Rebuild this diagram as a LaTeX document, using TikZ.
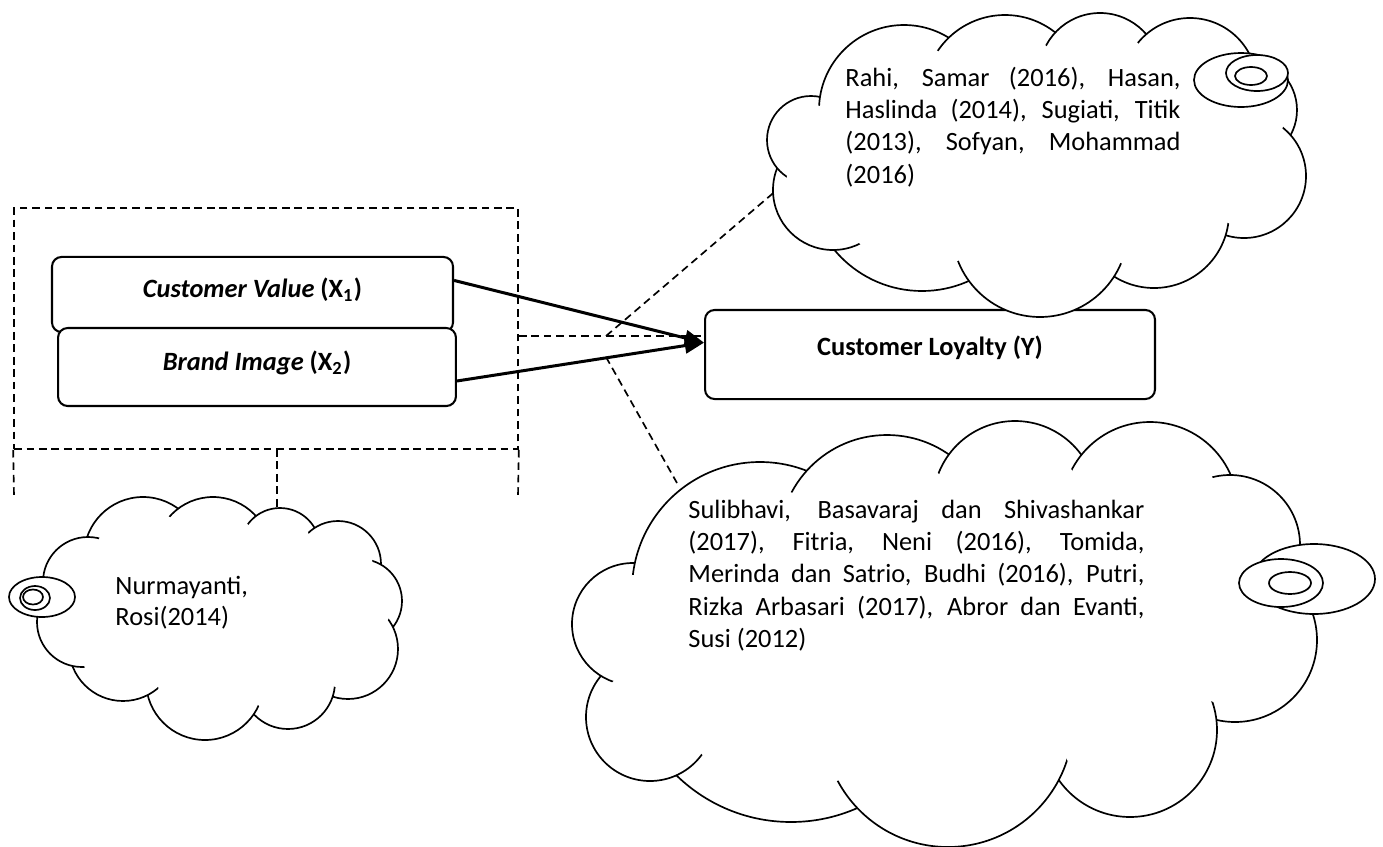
\documentclass[tikz,border=0pt]{standalone}
\usepackage{fontspec}
\setmainfont{Carlito}
\usetikzlibrary{arrows.meta}
\tolerance=10000
\hbadness=10000

% Wolke aus Kreisen: #1 erster Mittelpunkt, #2 Liste x/y/r
\newcommand{\cloudshape}[2]{%
  \foreach \bx/\by/\br in {#2}
  \filldraw[cloudline, fill=white] (\bx,\by) circle[radius=\br];
  \fill[white] #1 \foreach \bx/\by/\br in {#2} {-- (\bx,\by)} -- cycle;
  \foreach \bx/\by/\br in {#2}
  \fill[white] (\bx,\by) circle[radius=0.8*\br];
}

\begin{document}
\begin{tikzpicture}[x=0.4167pt, y=-0.4167pt,
  box/.style={draw, fill=white, line width=0.85pt, rounded corners=4pt, inner sep=0pt, font=\fontsize{11pt}{13.75pt}\selectfont},
  dashline/.style={line width=0.7pt, dash pattern=on 3.2pt off 2pt},
  arrowline/.style={line width=1.25pt, -{Triangle[length=8pt,width=6.5pt]}},
  cloudline/.style={line width=0.7pt},
  reftext/.style={anchor=base west, inner sep=0pt, font=\fontsize{11pt}{13.5pt}\selectfont}]

  \useasboundingbox (0,0) rectangle (1383,847);

  % Rahmen um X1 und X2
  \node (frame) [draw, dashline, inner sep=0pt, minimum width=210pt, minimum height=100.4pt] at (266,328.5) {};
  \draw[dashline] (frame.south west) -- (14,497);
  \draw[dashline] (frame.south east) -- (518,497);
  \draw[dashline] (277,449) -- (277,512);

  % Variablen
  \node (cv) [box, minimum width=167.1pt, minimum height=31.3pt] at (252.5,294.5) {\raisebox{5.3pt}{\textbf{\textit{Customer Value}} \textbf{(X\textsubscript{1})}}};
  \node (bi) [box, minimum width=165.8pt, minimum height=32.5pt] at (257,367) {\raisebox{5.3pt}{\textbf{\textit{Brand Image}} \textbf{(X\textsubscript{2})}}};
  \node (cl) [box, minimum width=187.5pt, minimum height=37.1pt] at (930,354.5) {\raisebox{7.7pt}{\textbf{Customer Loyalty (Y)}}};

  % gestrichelte Verbindungen
  \coordinate (hub) at (606,336);
  \coordinate (hubb) at (606,357);
  \coordinate (rtip) at (785,183);
  \coordinate (btip) at (677,483);
  \draw[dashline] (frame.east |- hub) -- (cl.west |- hub);
  \draw[dashline] (hub) -- (rtip);
  \draw[dashline] (hubb) -- (btip);

  % Pfeile
  \draw[arrowline] (cv.4) -- (cl.177);
  \draw[arrowline] (bi.-4) -- (cl.177);

  % Wolke oben
  \cloudshape{(922,177)}{922/177/114, 833/190/60, 811/140/44, 904/110/85, 1005/96/81, 1100/74/61, 1190/85/67, 1245/110/52, 1244/176/62, 1154/213/75, 1040/229/88}
  \filldraw[cloudline, fill=white] (1241,80) ellipse[x radius=47, y radius=27];
  \filldraw[cloudline, fill=white] (1257,73) ellipse[x radius=31, y radius=18];
  \draw[cloudline] (1251,76) ellipse[x radius=16, y radius=9];
  \node (reftop) [reftext, text width=139.6pt, align=justify] at (845,86) {Rahi, Samar (2016), Hasan,\linebreak Haslinda (2014), Sugiati, Titik\linebreak (2013), Sofyan, Mohammad\linebreak (2016)};

  % Wolke unten rechts
  \cloudshape{(791,658)}{791/658/164, 650/717/64, 633/624/61, 760/590/128, 887/543/108, 1015/503/82, 1150/510/88, 1230/545/70, 1235/640/82, 1130/730/87, 948/722/125}
  \filldraw[cloudline, fill=white] (1314,579) ellipse[x radius=61, y radius=35];
  \filldraw[cloudline, fill=white] (1281,583) ellipse[x radius=42, y radius=24];
  \draw[cloudline] (1290,583) ellipse[x radius=21, y radius=11];
  \node (refbottom) [reftext, text width=190pt, align=justify] at (688,518) {Sulibhavi, Basavaraj dan Shivashankar\linebreak (2017), Fitria, Neni (2016), Tomida,\linebreak Merinda dan Satrio, Budhi (2016), Putri,\linebreak Rizka Arbasari (2017), Abror dan Evanti,\linebreak Susi (2012)};

  % Wolke unten links
  \cloudshape{(143,556)}{143/556/59, 213/555/58, 280/548/40, 338/564/43, 360/601/42, 348/649/50, 288/682/47, 205/681/59, 123/647/54, 82/622/45, 88/582/45}
  \filldraw[cloudline, fill=white] (42,597) ellipse[x radius=33, y radius=20];
  \filldraw[cloudline, fill=white] (35,598) ellipse[x radius=15, y radius=12];
  \draw[cloudline] (33,597) ellipse[x radius=10, y radius=7.5];
  \node (refleft) [reftext, text width=70pt, align=left, font=\fontsize{11pt}{13.3pt}\selectfont] at (115,594) {Nurmayanti,\\Rosi(2014)};

\end{tikzpicture}
\end{document}
